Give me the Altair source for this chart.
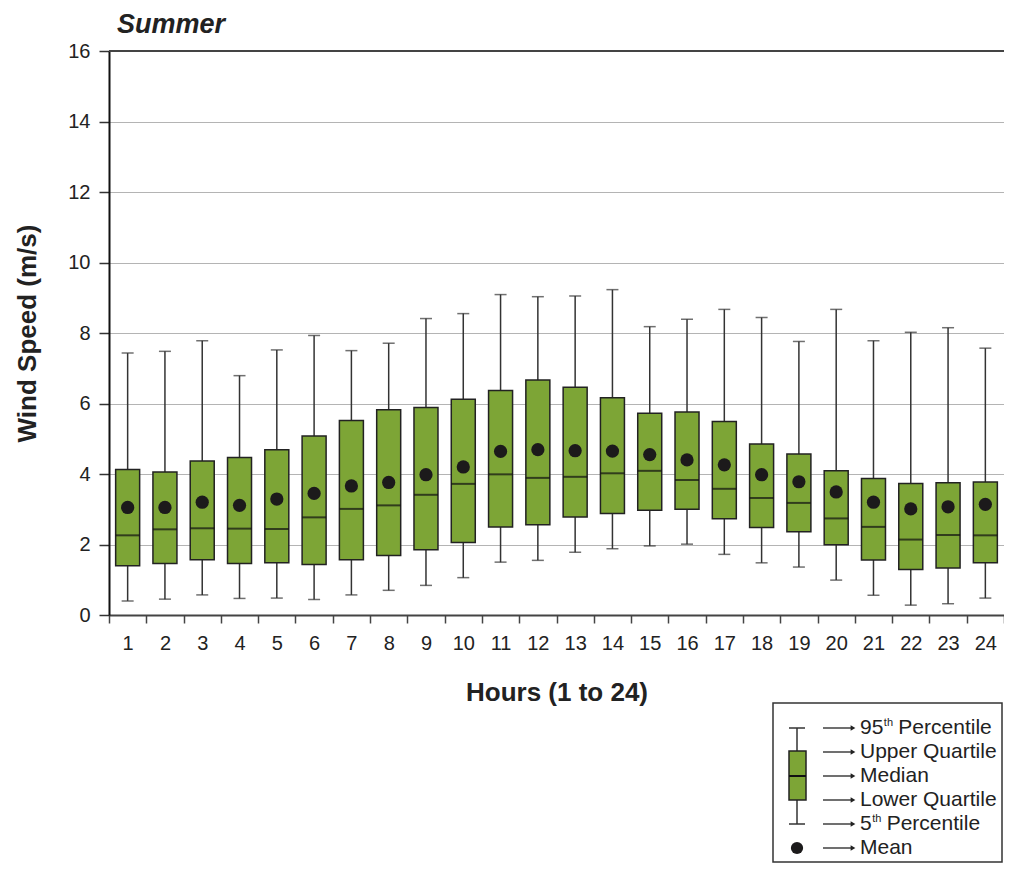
import altair as alt
import pandas as pd

# ---- data ----
hours = list(range(1, 25))
p95 = [7.43, 7.48, 7.78, 6.79, 7.52, 7.93, 7.50, 7.71, 8.41, 8.55, 9.09, 9.03,
       9.05, 9.23, 8.18, 8.39, 8.67, 8.44, 7.76, 8.67, 7.78, 8.02, 8.15, 7.57]
q3 = [4.13, 4.06, 4.37, 4.47, 4.69, 5.08, 5.52, 5.82, 5.89, 6.12, 6.37, 6.67,
      6.46, 6.16, 5.72, 5.76, 5.49, 4.85, 4.57, 4.09, 3.87, 3.73, 3.75, 3.77]
median = [2.26, 2.43, 2.46, 2.45, 2.44, 2.77, 3.01, 3.11, 3.41, 3.72, 3.99, 3.89,
          3.92, 4.02, 4.09, 3.83, 3.58, 3.32, 3.18, 2.74, 2.50, 2.14, 2.27, 2.26]
q1 = [1.40, 1.46, 1.57, 1.46, 1.48, 1.43, 1.57, 1.69, 1.85, 2.06, 2.50, 2.56,
      2.78, 2.88, 2.97, 3.00, 2.73, 2.48, 2.36, 1.99, 1.56, 1.29, 1.33, 1.48]
p5 = [0.40, 0.45, 0.57, 0.47, 0.48, 0.44, 0.57, 0.70, 0.84, 1.06, 1.50, 1.55,
      1.78, 1.88, 1.96, 2.01, 1.72, 1.48, 1.36, 0.99, 0.56, 0.28, 0.32, 0.48]
mean = [3.05, 3.05, 3.20, 3.11, 3.29, 3.45, 3.66, 3.76, 3.98, 4.20, 4.64, 4.69,
        4.66, 4.65, 4.55, 4.40, 4.26, 3.98, 3.78, 3.49, 3.20, 3.01, 3.07, 3.14]
y_ticks = [0, 2, 4, 6, 8, 10, 12, 14, 16]
legend_labels = ["95th Percentile", "Upper Quartile", "Median",
                 "Lower Quartile", "5th Percentile", "Mean"]
chart_title = "Summer"

df = pd.DataFrame({"hour": hours, "p95": p95, "q3": q3, "median": median,
                   "q1": q1, "p5": p5, "mean": mean})

FONT = "Liberation Sans"
GREEN = "#7da536"
DARK = "#222222"

PLOT_W = 895
PLOT_H = 564

x_enc = alt.X("hour:O", title="Hours (1 to 24)",
              scale=alt.Scale(paddingInner=0, paddingOuter=0),
              axis=alt.Axis(labelAngle=0, tickBand="extent", tickSize=8,
                            tickColor="#444", tickWidth=1.5,
                            domainColor="#444", domainWidth=2,
                            labelFontSize=20, labelColor=DARK, labelPadding=10,
                            titleFontSize=26, titleFontWeight="bold",
                            titleColor=DARK, titlePadding=26, grid=False))
y_scale = alt.Scale(domain=[0, 16], nice=False)
y_axis = alt.Axis(values=y_ticks, grid=True, gridColor="#b4b4b4", gridWidth=1.2,
                  domainColor="#111", domainWidth=2, tickSize=10,
                  tickColor="#333", tickWidth=1.5, labelFontSize=20,
                  labelColor=DARK, labelPadding=9,
                  title="Wind Speed (m/s)", titleFontSize=26,
                  titleFontWeight="bold", titleColor=DARK, titlePadding=27)

base = alt.Chart(df)

whisker = base.mark_rule(color="#333", strokeWidth=1.5).encode(
    x=x_enc,
    y=alt.Y("p5:Q", scale=y_scale, axis=y_axis),
    y2="p95:Q")
cap_hi = base.mark_tick(color="#333", size=12, thickness=1.5).encode(
    x="hour:O", y="p95:Q")
cap_lo = base.mark_tick(color="#333", size=12, thickness=1.5).encode(
    x="hour:O", y="p5:Q")
box = base.mark_bar(size=24, color=GREEN, stroke=DARK, strokeWidth=1.5).encode(
    x="hour:O", y="q1:Q", y2="q3:Q")
med = base.mark_tick(color="#111", size=24, thickness=2).encode(
    x="hour:O", y="median:Q")
mean_pt = base.mark_circle(size=175, color="#1c1a1b", opacity=1).encode(
    x="hour:O", y="mean:Q")
top_line = alt.Chart(pd.DataFrame({"y": [16]})).mark_rule(
    color="#444", strokeWidth=2).encode(y=alt.Y("y:Q"))

one = pd.DataFrame({"k": [0]})

title_mark = alt.Chart(one).mark_text(
    align="left", baseline="alphabetic", fontSize=27, fontStyle="italic",
    fontWeight="bold", font=FONT, color=DARK, text=chart_title).encode(
    x=alt.value(8), y=alt.value(-18))

# ---- legend (annotation box below the plot, pixel positioned) ----
LX0, LX1 = 664, 893       # legend frame left/right (relative to plot origin)
LY0, LY1 = 652, 811
rows = [677 + 24 * i for i in range(6)]
gx = 688                 # glyph centre
arrow_x0, arrow_x1 = 714, 743
text_x = 751
FS = 21
digit_w = 0.556 * FS

layers = []
layers.append(alt.Chart(one).mark_rect(fill="white", stroke="#333", strokeWidth=1.5).encode(
    x=alt.value(LX0), x2=alt.value(LX1), y=alt.value(LY0), y2=alt.value(LY1)))
layers.append(alt.Chart(one).mark_rule(color="#333", strokeWidth=1.5).encode(
    x=alt.value(gx), y=alt.value(rows[0]), y2=alt.value(rows[4])))
for r in (rows[0], rows[4]):
    layers.append(alt.Chart(one).mark_rule(color="#333", strokeWidth=1.5).encode(
        x=alt.value(gx - 8), x2=alt.value(gx + 8), y=alt.value(r)))
layers.append(alt.Chart(one).mark_rect(fill=GREEN, stroke=DARK, strokeWidth=1.5).encode(
    x=alt.value(gx - 8), x2=alt.value(gx + 9), y=alt.value(rows[1] - 1), y2=alt.value(rows[3])))
layers.append(alt.Chart(one).mark_rule(color="#111", strokeWidth=2).encode(
    x=alt.value(gx - 8), x2=alt.value(gx + 9), y=alt.value(rows[2])))
layers.append(alt.Chart(one).mark_circle(size=150, color="#1c1a1b", opacity=1).encode(
    x=alt.value(gx), y=alt.value(rows[5])))
for i, r in enumerate(rows):
    layers.append(alt.Chart(one).mark_rule(color=DARK, strokeWidth=1.3).encode(
        x=alt.value(arrow_x0), x2=alt.value(arrow_x1), y=alt.value(r)))
    layers.append(alt.Chart(one).mark_point(shape="triangle-right", size=30, filled=True,
                                            color=DARK, opacity=1).encode(
        x=alt.value(arrow_x1 + 1), y=alt.value(r)))
    label = legend_labels[i]
    if "th " in label:
        num, rest = label.split("th ", 1)
        w_num = digit_w * len(num)
        layers.append(alt.Chart(one).mark_text(align="left", baseline="middle", fontSize=FS,
                                               font=FONT, color=DARK, text=num).encode(
            x=alt.value(text_x), y=alt.value(r)))
        layers.append(alt.Chart(one).mark_text(align="left", baseline="middle", fontSize=11,
                                               font=FONT, color=DARK, text="th").encode(
            x=alt.value(text_x + w_num + 0.5), y=alt.value(r - 5)))
        layers.append(alt.Chart(one).mark_text(align="left", baseline="middle", fontSize=FS,
                                               font=FONT, color=DARK, text=rest).encode(
            x=alt.value(text_x + w_num + 15), y=alt.value(r)))
    else:
        layers.append(alt.Chart(one).mark_text(align="left", baseline="middle", fontSize=FS,
                                               font=FONT, color=DARK, text=label).encode(
            x=alt.value(text_x), y=alt.value(r)))

chart = alt.layer(whisker, cap_hi, cap_lo, box, med, mean_pt, top_line, title_mark,
                  *layers).properties(
    width=PLOT_W, height=PLOT_H,
    autosize=alt.AutoSizeParams(type="none"),
    padding={"left": 101, "top": 43, "right": 0, "bottom": 248},
).configure(font=FONT).configure_view(stroke=None).configure_axis(labelFont=FONT, titleFont=FONT)

chart.save("out.html", embed_options={"renderer": "svg", "actions": False})
